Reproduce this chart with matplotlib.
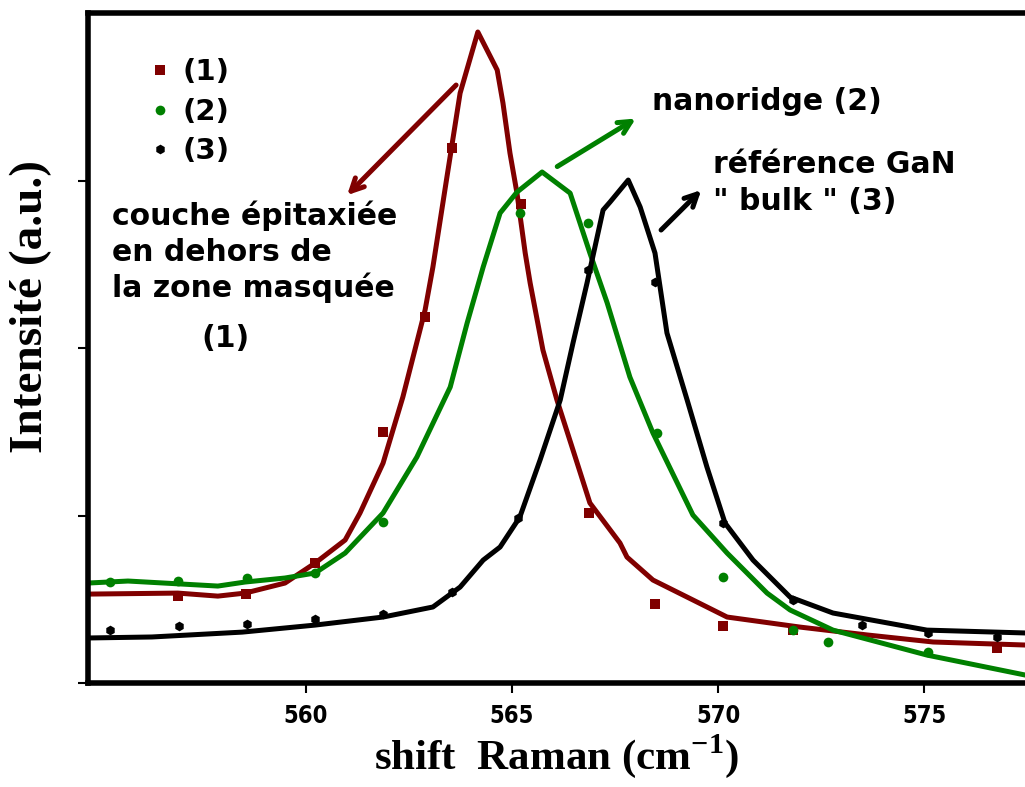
import matplotlib
matplotlib.use("Agg")
import matplotlib.pyplot as plt
from matplotlib.lines import Line2D

plt.rcParams['font.family'] = ['DejaVu Sans']
plt.rcParams['mathtext.fontset'] = 'custom'
plt.rcParams['mathtext.rm'] = 'Liberation Serif:bold'
plt.rcParams['mathtext.bf'] = 'Liberation Serif:bold'

# --- mesures (1) : couche épitaxiée hors zone masquée
x1_pts = [556.89, 558.54, 560.22, 561.87, 562.89, 563.54, 565.22, 566.87, 568.47, 570.12, 571.82, 576.77]
y1_pts = [0.519, 0.531, 0.716, 1.499, 2.185, 3.194, 2.86, 1.015, 0.472, 0.340, 0.316, 0.209]
# ajustement (1)
x1_fit = [554.71, 556.89, 557.86, 558.52, 559.49, 560.22, 560.95, 561.31, 561.87, 562.35, 562.89,
          563.08, 563.42, 563.74, 564.17, 564.64, 564.78, 564.95, 565.12, 565.32, 565.44, 565.75,
          566.09, 566.48, 566.89, 567.62, 567.79, 568.42, 569.39, 570.22, 571.99, 573.62, 575.22, 577.45]
y1_fit = [0.531, 0.537, 0.519, 0.537, 0.597, 0.716, 0.854, 1.015, 1.313, 1.707, 2.227,
          2.484, 3.021, 3.522, 3.887, 3.660, 3.463, 3.164, 2.925, 2.567, 2.388, 1.988,
          1.690, 1.391, 1.075, 0.836, 0.752, 0.615, 0.496, 0.394, 0.334, 0.287, 0.245, 0.227]

# --- mesures (2) : nanoridge
x2_pts = [555.24, 556.89, 558.57, 560.22, 561.87, 565.19, 566.84, 568.52, 570.12, 571.82, 572.67, 575.10]
y2_pts = [0.603, 0.609, 0.627, 0.657, 0.961, 2.806, 2.746, 1.493, 0.633, 0.316, 0.245, 0.185]
x2_fit = [554.71, 555.68, 557.86, 558.52, 559.49, 560.22, 560.95, 561.87, 562.69, 563.50, 563.91,
          564.30, 564.71, 565.12, 565.73, 566.41, 566.89, 567.31, 567.86, 568.42, 569.39, 570.22,
          571.19, 571.75, 572.79, 575.07, 577.45]
y2_fit = [0.597, 0.609, 0.579, 0.603, 0.627, 0.657, 0.776, 1.015, 1.349, 1.767, 2.149,
          2.484, 2.806, 2.931, 3.051, 2.925, 2.567, 2.269, 1.827, 1.493, 1.003, 0.776,
          0.537, 0.436, 0.316, 0.167, 0.048]

# --- mesures (3) : référence GaN bulk
x3_pts = [555.24, 556.92, 558.57, 560.22, 561.87, 563.54, 565.15, 566.84, 568.47, 570.12, 571.82, 573.50, 575.10, 576.77]
y3_pts = [0.316, 0.340, 0.352, 0.382, 0.412, 0.543, 0.985, 2.466, 2.394, 0.955, 0.496, 0.346, 0.299, 0.275]
x3_fit = [554.71, 556.26, 558.45, 560.22, 561.87, 563.08, 563.74, 564.30, 564.71, 565.19, 565.68,
          566.17, 566.48, 566.82, 567.21, 567.38, 567.82, 568.11, 568.47, 568.76, 569.25, 569.73,
          570.17, 570.85, 571.75, 572.79, 575.07, 577.45]
y3_fit = [0.269, 0.275, 0.304, 0.346, 0.394, 0.454, 0.573, 0.734, 0.812, 0.991, 1.331,
          1.690, 2.030, 2.388, 2.824, 2.872, 3.003, 2.842, 2.567, 2.090, 1.690, 1.290,
          0.955, 0.734, 0.513, 0.418, 0.316, 0.299]

x_ticks = [560, 565, 570, 575]
y_ticks = [0, 1, 2, 3]

ROUGE = '#800000'
VERT = '#008000'
NOIR = '#000000'

fig = plt.figure(figsize=(10.25, 7.87), dpi=100)
ax = fig.add_axes([0.0859, 0.1321, 0.9141, 0.8513])

# courbes d'ajustement
ax.plot(x1_fit, y1_fit, color=ROUGE, lw=3.6, solid_joinstyle='round', zorder=2)
ax.plot(x2_fit, y2_fit, color=VERT, lw=3.6, solid_joinstyle='round', zorder=2)
ax.plot(x3_fit, y3_fit, color=NOIR, lw=3.6, solid_joinstyle='round', zorder=2)

# points de mesure
ax.plot(x1_pts, y1_pts, 's', color=ROUGE, ms=7, mew=0, zorder=3)
ax.plot(x2_pts, y2_pts, 'o', color=VERT, ms=7, mew=0, zorder=3)
ax.plot(x3_pts, y3_pts, 'h', color=NOIR, ms=7, mew=0, zorder=3)

ax.set_xlim(554.71, 577.45)
ax.set_ylim(0, 4.0)

ax.set_xticks(x_ticks)
ax.set_yticks(y_ticks)
ax.set_yticklabels([])
ax.tick_params(axis='x', direction='out', length=7, width=1.5, labelsize=17, pad=8)
ax.tick_params(axis='y', direction='out', length=7, width=1.5)
for lab in ax.get_xticklabels():
    lab.set_fontweight('bold')
    lab.set_fontstretch('condensed')

for side in ['left', 'bottom', 'top']:
    ax.spines[side].set_linewidth(4)
ax.spines['right'].set_visible(False)

ax.set_xlabel(r'shift  Raman (cm$^{\mathbf{-1}}$)', family='Liberation Serif',
              fontweight='bold', fontsize=31, labelpad=3)
ax.set_ylabel('Intensité (a.u.)', family='Liberation Serif', fontweight='bold', fontsize=34)
ax.yaxis.set_label_coords(-0.038, 0.562)

# légende
poignees = [
    Line2D([], [], ls='none', marker='s', color=ROUGE, ms=7, mew=0),
    Line2D([], [], ls='none', marker='o', color=VERT, ms=7, mew=0),
    Line2D([], [], ls='none', marker='h', color=NOIR, ms=7, mew=0),
]
ax.legend(poignees, ['(1)', '(2)', '(3)'], loc='upper left', bbox_to_anchor=(0.039, 0.972),
          frameon=False, handlelength=0.6, handletextpad=0.5, labelspacing=0.4,
          prop={'weight': 'bold', 'size': 21})

# annotations
txt = dict(fontsize=21.5, fontweight='bold', va='baseline', ha='left')
ax.text(555.29, (683 - 225) / 167.5, 'couche épitaxiée', **txt)
ax.text(555.29, (683 - 261) / 167.5, 'en dehors de', **txt)
ax.text(555.29, (683 - 297) / 167.5, 'la zone masquée', **txt)
ax.text(557.47, (683 - 347) / 167.5, '(1)', **txt)
ax.text(568.40, (683 - 110) / 167.5, 'nanoridge (2)', **txt)
ax.text(569.87, (683 - 173) / 167.5, 'référence GaN', **txt)
ax.text(569.87, (683 - 210) / 167.5, '" bulk " (3)', **txt)

fleche = dict(arrowstyle='->,head_length=0.9,head_width=0.45', lw=3.6)
ax.annotate('', xy=(560.95, 2.901), xytext=(563.69, 3.582),
            arrowprops=dict(color=ROUGE, **fleche))
ax.annotate('', xy=(568.06, 3.379), xytext=(566.04, 3.075),
            arrowprops=dict(color=VERT, **fleche))
ax.annotate('', xy=(569.64, 2.955), xytext=(568.57, 2.693),
            arrowprops=dict(color=NOIR, **fleche))

fig.savefig('out.png', dpi=100)
